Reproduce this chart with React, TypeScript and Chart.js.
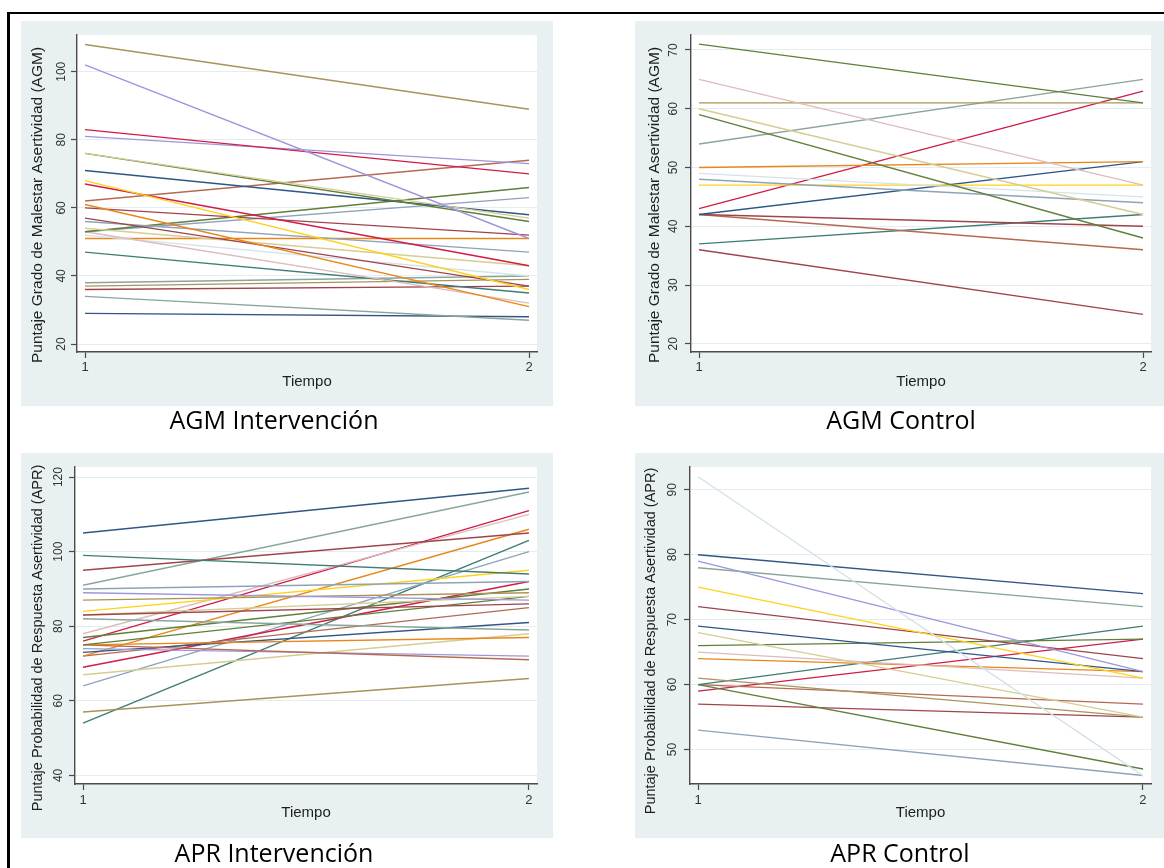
import React, { useEffect, useRef } from "react";
import { Chart, registerables } from "chart.js";
Chart.register(...registerables);

// ---------- data ----------
const timePoints = [1, 2];
const timeTickLabels = ["1", "2"];

// AGM Intervención
const agmIntT1 = [108, 102, 83, 81, 76, 76, 71, 68, 67, 62, 61, 60, 57, 56, 54, 53, 53, 53, 52, 51, 47, 38, 37, 36, 34, 29];
const agmIntT2 = [89, 51, 70, 73, 57, 56, 58, 36, 43, 74, 31, 52, 37, 47, 43, 66, 63, 32, 40, 51, 35, 40, 39, 37, 27, 28];
const agmIntTicks = [20, 40, 60, 80, 100];

// AGM Control
const agmCtlT1 = [71, 65, 61, 60, 59, 54, 50, 49, 48, 47, 43, 42, 42, 42, 37, 36];
const agmCtlT2 = [61, 47, 61, 42, 38, 65, 51, 45, 44, 47, 63, 51, 40, 36, 42, 25];
const agmCtlTicks = [20, 30, 40, 50, 60, 70];

// APR Intervención
const aprIntT1 = [105, 99, 95, 91, 90, 89, 87, 84, 83, 83, 82, 78, 77, 76, 75, 75, 75, 74, 73, 72, 72, 69, 67, 64, 57, 54];
const aprIntT2 = [117, 94, 105, 116, 92, 87, 89, 95, 86, 88, 79, 110, 90, 111, 88, 77, 71, 72, 81, 106, 85, 92, 78, 100, 66, 103];
const aprIntTicks = [40, 60, 80, 100, 120];

// APR Control
const aprCtlT1 = [92, 80, 79, 78, 75, 72, 69, 68, 66, 65, 64, 61, 60, 60, 60, 59, 57, 53];
const aprCtlT2 = [46, 74, 62, 72, 61, 64, 62, 55, 67, 61, 62, 55, 69, 47, 57, 67, 55, 46];
const aprCtlTicks = [50, 60, 70, 80, 90];

// ---------- styles ----------
const C = {
  navy: "#2f5684",
  maroon: "#a0444c",
  forest: "#5f7f3a",
  orange: "#e8861a",
  teal: "#8aa69c",
  cranberry: "#d01c48",
  lavender: "#9d96dc",
  khaki: "#d6cc94",
  sienna: "#b46a50",
  emidblue: "#8ea3ba",
  emerald: "#3f7c74",
  brown: "#a8945a",
  erose: "#ddbcbc",
  gold: "#ffd21a",
  bluishgray: "#d4e2ea",
};

const agmIntColors = [C.brown, C.lavender, C.cranberry, C.lavender, C.khaki, C.forest, C.navy, C.gold, C.cranberry, C.sienna, C.orange, C.maroon, C.maroon, C.emidblue, C.khaki, C.forest, C.emidblue, C.erose, C.bluishgray, C.orange, C.emerald, C.teal, C.brown, C.maroon, C.teal, C.navy];
const agmCtlColors = [C.forest, C.erose, C.brown, C.khaki, C.forest, C.teal, C.orange, C.bluishgray, C.emidblue, C.gold, C.cranberry, C.navy, C.maroon, C.sienna, C.emerald, C.maroon];
const aprIntColors = [C.navy, C.emerald, C.maroon, C.teal, C.emidblue, C.lavender, C.brown, C.gold, C.maroon, C.khaki, C.teal, C.erose, C.forest, C.cranberry, C.forest, C.orange, C.sienna, C.lavender, C.navy, C.orange, C.sienna, C.cranberry, C.khaki, C.emidblue, C.brown, C.emerald];
const aprCtlColors = [C.bluishgray, C.navy, C.lavender, C.teal, C.gold, C.maroon, C.navy, C.khaki, C.forest, C.erose, C.orange, C.brown, C.emerald, C.forest, C.sienna, C.cranberry, C.maroon, C.emidblue];

type Panel = {
  left: number; top: number; width: number; height: number;
  areaLeft: number; areaRight: number; areaTop: number; areaBottom: number;
  yMin: number; yMax: number; yTicks: number[];
  t1: number[]; t2: number[]; colors: string[];
  yTitle: string; yTitleSize: number; yTitleX: number; yTitleY: number;
  yTickX: number; xTickY: number; xTitleY: number;
  caption: string; captionX: number; captionTop: number;
};

const panels: Panel[] = [
  {
    left: 21, top: 21, width: 532, height: 385,
    areaLeft: 56, areaRight: 516, areaTop: 14, areaBottom: 331,
    yMin: 17.65, yMax: 110.8, yTicks: agmIntTicks,
    t1: agmIntT1, t2: agmIntT2, colors: agmIntColors,
    yTitle: "Puntaje Grado de Malestar Asertividad (AGM)", yTitleSize: 15.5, yTitleX: 17, yTitleY: 184,
    yTickX: 41, xTickY: 346, xTitleY: 361,
    caption: "AGM Intervención", captionX: 274, captionTop: 406,
  },
  {
    left: 635, top: 21, width: 529, height: 385,
    areaLeft: 56, areaRight: 516, areaTop: 14, areaBottom: 331,
    yMin: 18.6, yMax: 72.55, yTicks: agmCtlTicks,
    t1: agmCtlT1, t2: agmCtlT2, colors: agmCtlColors,
    yTitle: "Puntaje Grado de Malestar Asertividad (AGM)", yTitleSize: 15.5, yTitleX: 20, yTitleY: 184,
    yTickX: 39, xTickY: 346, xTitleY: 361,
    caption: "AGM Control", captionX: 901, captionTop: 406,
  },
  {
    left: 21, top: 453, width: 532, height: 385,
    areaLeft: 54, areaRight: 516, areaTop: 14, areaBottom: 331,
    yMin: 37.7, yMax: 122.7, yTicks: aprIntTicks,
    t1: aprIntT1, t2: aprIntT2, colors: aprIntColors,
    yTitle: "Puntaje Probabilidad de Respuesta Asertividad (APR)", yTitleSize: 14.5, yTitleX: 17, yTitleY: 185,
    yTickX: 38, xTickY: 347, xTitleY: 360,
    caption: "APR Intervención", captionX: 274, captionTop: 839,
  },
  {
    left: 635, top: 453, width: 529, height: 385,
    areaLeft: 55, areaRight: 516, areaTop: 14, areaBottom: 331,
    yMin: 44.7, yMax: 93.5, yTicks: aprCtlTicks,
    t1: aprCtlT1, t2: aprCtlT2, colors: aprCtlColors,
    yTitle: "Puntaje Probabilidad de Respuesta Asertividad (APR)", yTitleSize: 14.5, yTitleX: 16, yTitleY: 188,
    yTickX: 38, xTickY: 347, xTitleY: 360,
    caption: "APR Control", captionX: 900, captionTop: 839,
  },
];

const AXIS = "#4a4a4a";
const GRID = "#e4edf0";
const BG = "#e8f0f2";
const FONT = '"Liberation Sans", Arial, sans-serif';

function PanelChart({ p }: { p: Panel }) {
  const ref = useRef<HTMLCanvasElement | null>(null);
  useEffect(() => {
    const canvas = ref.current;
    if (!canvas) return;
    const pad = 8 / 444;
    const labelPlugin = {
      id: "stataLabels",
      beforeDraw(chart: any) {
        const ctx = chart.ctx as CanvasRenderingContext2D;
        const ca = chart.chartArea;
        ctx.save();
        ctx.fillStyle = "#ffffff";
        ctx.fillRect(ca.left, ca.top, ca.right - ca.left, ca.bottom - ca.top);
        ctx.restore();
      },
      afterDraw(chart: any) {
        const ctx = chart.ctx as CanvasRenderingContext2D;
        const xs = chart.scales.x;
        const ys = chart.scales.y;
        const ca = chart.chartArea;
        ctx.save();
        ctx.fillStyle = "#333";
        ctx.textAlign = "center";
        ctx.textBaseline = "middle";
        ctx.font = `12px ${FONT}`;
        p.yTicks.forEach((v) => {
          const y = ys.getPixelForValue(v);
          ctx.save();
          ctx.translate(p.yTickX, y);
          ctx.rotate(-Math.PI / 2);
          ctx.fillText(String(v), 0, 0);
          ctx.restore();
        });
        ctx.font = `13px ${FONT}`;
        timePoints.forEach((v, i) => {
          ctx.fillText(timeTickLabels[i], xs.getPixelForValue(v), p.xTickY);
        });
        ctx.fillStyle = "#1e1e1e";
        ctx.font = `15px ${FONT}`;
        ctx.fillText("Tiempo", (ca.left + ca.right) / 2, p.xTitleY);
        ctx.font = `${p.yTitleSize}px ${FONT}`;
        ctx.save();
        ctx.translate(p.yTitleX, p.yTitleY);
        ctx.rotate(-Math.PI / 2);
        ctx.fillText(p.yTitle, 0, 0);
        ctx.restore();
        ctx.restore();
      },
    };
    const chart = new Chart(canvas, {
      type: "line",
      data: {
        datasets: p.t1.map((a, i) => ({
          data: [
            { x: timePoints[0], y: a },
            { x: timePoints[1], y: p.t2[i] },
          ],
          borderColor: p.colors[i % p.colors.length],
          borderWidth: 1.4,
          pointRadius: 0,
          fill: false,
          tension: 0,
        })),
      },
      options: {
        responsive: false,
        animation: false,
        devicePixelRatio: 1,
        layout: { padding: { left: 0, top: p.areaTop, right: p.width - p.areaRight, bottom: 0 } },
        plugins: { legend: { display: false }, tooltip: { enabled: false }, title: { display: false } },
        scales: {
          x: {
            type: "linear",
            min: 1 - pad,
            max: 2 + pad,
            afterBuildTicks: (s: any) => { s.ticks = timePoints.map((v) => ({ value: v })); },
            afterFit: (s: any) => { s.height = p.height - p.areaBottom; },
            ticks: { display: false },
            grid: { drawOnChartArea: false, drawTicks: true, tickLength: 6, tickColor: AXIS, tickWidth: 1.2 },
            border: { display: true, color: AXIS, width: 1.4 },
          },
          y: {
            type: "linear",
            min: p.yMin,
            max: p.yMax,
            afterBuildTicks: (s: any) => { s.ticks = p.yTicks.map((v) => ({ value: v })); },
            afterFit: (s: any) => { s.width = p.areaLeft; },
            ticks: { display: false },
            grid: { color: GRID, lineWidth: 1, drawTicks: true, tickLength: 6, tickColor: AXIS, tickWidth: 1.2 },
            border: { display: true, color: AXIS, width: 1.4 },
          },
        },
      } as any,
      plugins: [labelPlugin],
    });
    return () => chart.destroy();
  }, [p]);
  return (
    <>
      <div style={{ position: "absolute", left: p.left, top: p.top, width: p.width, height: p.height, background: BG }}>
        <canvas ref={ref} width={p.width} height={p.height} style={{ display: "block", width: p.width, height: p.height }} />
      </div>
      <div
        style={{
          position: "absolute",
          left: p.captionX - 200,
          top: p.captionTop,
          width: 400,
          textAlign: "center",
          fontFamily: '"Open Sans", "Noto Sans", sans-serif',
          fontSize: 25,
          lineHeight: "27px",
          color: "#000",
          whiteSpace: "nowrap",
        }}
      >
        {p.caption}
      </div>
    </>
  );
}

export default function App() {
  return (
    <div style={{ position: "absolute", left: 0, top: 0, width: 1164, height: 868, background: "#fff", overflow: "hidden" }}>
      <div style={{ position: "absolute", left: 7, top: 12, width: 1157, height: 2, background: "#000" }} />
      <div style={{ position: "absolute", left: 7, top: 12, width: 3, height: 856, background: "#000" }} />
      {panels.map((p, i) => (
        <PanelChart key={i} p={p} />
      ))}
    </div>
  );
}
